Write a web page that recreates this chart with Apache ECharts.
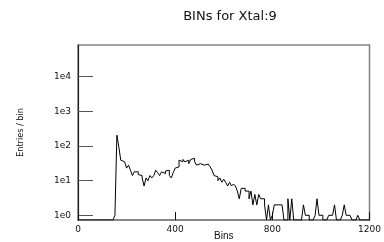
<!DOCTYPE html>
<html>
<head>
<meta charset="utf-8">
<script src="https://cdn.jsdelivr.net/npm/echarts@6/dist/echarts.min.js"></script>
<style>
html,body{margin:0;padding:0;background:#fff;}
#chart{width:384px;height:242px;}
</style>
</head>
<body>
<div id="chart"></div>
<script>
// ---- data ----
const titleText = "BINs for Xtal:9";
const xName = "Bins";
const yName = "Entries / bin";
const binWidth = 8;
const xTicks = [0, 400, 800, 1200];
const yTickLabels = ["1e0", "1e1", "1e2", "1e3", "1e4"];
// counts per bin, bins start at 0 with width 8
const counts = [
  0,0,0,0,0,0,0,0,0,0,0,0,0,0,0,0,0,0,0,
  1,206,95,39,35,32,23,28,20,14,18,18,15,14,12,7,12,10,14,12,14,
  20,17,14,18,16,19,20,14,12,17,23,25,39,35,41,35,39,31,41,44,
  35,28,31,35,28,25,30,31,25,20,14,13,10,12,9,11,9,7,9,7,
  8,7,5,3,6,6,5,5,3,5,2,4,2,4,3,3,2,0,2,0,
  1,2,2,2,2,2,0,0,3,0,3,0,0,0,0,0,2,1,1,0,
  0,0,1,3,1,1,0,0,0,1,1,1,2,0,0,0,1,2,1,1,
  1,0,0,0,1,0,0,0,0,0
];
const yMin = 0.732, yMax = 82200;

// ---- build series ----
const pts = counts.map((c, i) => [i * binWidth, c > 0 ? c : yMin]);
pts.push([counts.length * binWidth, counts[counts.length - 1] > 0 ? counts[counts.length - 1] : yMin]);

const chart = echarts.init(document.getElementById('chart'));
chart.setOption({
  animation: false,
  backgroundColor: '#fff',
  title: {
    text: titleText, left: 225, top: 5, textAlign: 'center',
    textStyle: { fontFamily: 'DejaVu Sans', fontSize: 13, fontWeight: 'normal', color: '#111' }
  },
  grid: {
    left: 78, right: 14.5, top: 45, bottom: 22,
    outerBoundsMode: 'none', containLabel: false,
    show: true, borderColor: '#808080', borderWidth: 1.5, backgroundColor: 'transparent'
  },
  xAxis: {
    type: 'value', min: 0, max: 1200, interval: 400,
    name: xName, nameLocation: 'middle', nameGap: 11, nameMoveOverlap: false,
    nameTextStyle: { fontFamily: 'Liberation Sans', fontSize: 10, color: '#111' },
    axisLine: { show: true, lineStyle: { color: '#808080', width: 1.5 } },
    axisTick: { show: true, inside: true, length: 8, lineStyle: { color: '#111', width: 1 } },
    axisLabel: { margin: 5, fontFamily: 'DejaVu Sans', fontSize: 9, color: '#111',
      formatter: v => xTicks.includes(v) ? String(v) : '' },
    splitLine: { show: false }
  },
  yAxis: {
    type: 'log', logBase: 10, min: yMin, max: yMax,
    name: yName, nameLocation: 'middle', nameGap: 53, nameRotate: 90, nameMoveOverlap: false,
    nameTextStyle: { fontFamily: 'Liberation Sans Narrow, DejaVu Sans Condensed, sans-serif', fontSize: 9, color: '#111' },
    axisLine: { show: true, lineStyle: { color: '#222', width: 1.2 } },
    axisTick: { show: true, inside: true, length: 15, lineStyle: { color: '#555', width: 1 } },
    axisLabel: {
      margin: 7, fontFamily: 'DejaVu Sans', fontSize: 9, color: '#111',
      showMinLabel: false, showMaxLabel: false,
      formatter: v => {
        const l = Math.log10(v);
        const r = Math.round(l);
        return Math.abs(l - r) < 1e-6 && r >= 0 && r < yTickLabels.length ? yTickLabels[r] : '';
      }
    },
    splitLine: { show: false }
  },
  series: [{
    type: 'line', step: 'end', data: pts, showSymbol: false, symbol: 'none',
    lineStyle: { color: '#000', width: 1 }, clip: true
  }]
});
</script>
</body>
</html>
